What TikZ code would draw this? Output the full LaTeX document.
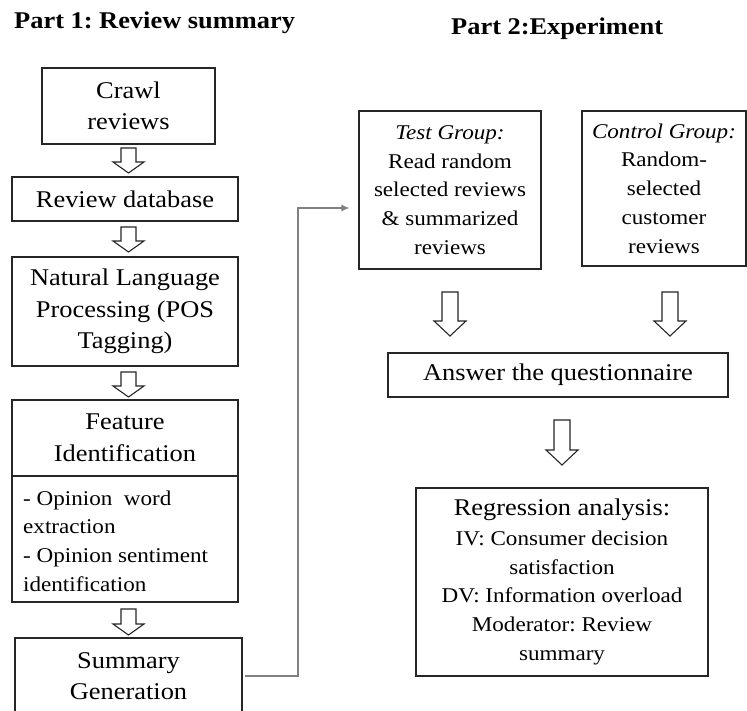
\documentclass[tikz,border=0pt]{standalone}
\usepackage{fontspec}
\setmainfont{Liberation Serif}[FakeStretch=1.1]
\usetikzlibrary{arrows.meta,calc}
\frenchspacing
\newcommand\bigf{\fontsize{24}{31.5}\selectfont}
\newcommand\smallf{\fontsize{21}{28.7}\selectfont}
\newcommand\hollowdown[6]{% cx, ytop, ybot, headh, halfshaft, halfhead
  \draw[blockarrow] (#1-#5,#2) -- (#1+#5,#2) -- (#1+#5,#3-#4) -- (#1+#6,#3-#4)
    -- (#1,#3) -- (#1-#6,#3-#4) -- (#1-#5,#3-#4) -- cycle;}
\tikzset{
  box/.style={draw=black!85, line width=1.2pt, inner sep=0pt, align=center, font=\bigf},
  smallbox/.style={box, font=\smallf},
  blockarrow/.style={draw=black!85, line width=1.1pt, fill=white, line join=miter},
  conn/.style={draw=black!50, line width=1.3pt},
  title/.style={font=\bigf\bfseries, inner sep=0pt, anchor=base west}
}
\begin{document}
\begin{tikzpicture}[x=1pt,y=-1pt]
\useasboundingbox (0,0) rectangle (747,711);
\clip (0,0) rectangle (747,711);
\fill[white] (0,0) rectangle (747,711);

% titles
\node[title] (t1) at (14,29) {Part 1: Review summary};
\node[title] (t2) at (451,35) {Part 2:Experiment};

% Part 1
\node[box, minimum width=173pt, minimum height=76pt] (crawl) at (128.5,106) {Crawl\\reviews};
\node[box, minimum width=226pt, minimum height=44pt] (rdb) at (125,199) {Review database};
\node[box, minimum width=226pt, minimum height=109pt] (nlp) at (125,311.5) {Natural Language\\Processing (POS\\Tagging)};
\node[box, minimum width=226pt, minimum height=76pt] (feat) at (125,438) {Feature\\Identification};
\node[box, minimum width=226pt, minimum height=126pt] (featd) at (125,539) {};
\node[font=\smallf, align=left, anchor=west, inner sep=0pt] (feattxt) at (23,541)
  {- Opinion\ \ word\\extraction\\- Opinion sentiment\\identification};
\node[box, minimum width=227pt, minimum height=76pt] (sumg) at (128.5,676) {Summary\\Generation};

\hollowdown{128.5}{148}{173}{11}{7.5}{15.5}
\hollowdown{128.5}{227}{252}{11}{7.5}{15.5}
\hollowdown{128.5}{372}{397}{11}{7.5}{15.5}
\hollowdown{128.5}{609}{635}{11}{7.5}{15.5}

% Part 2
\node[smallbox, minimum width=182pt, minimum height=158pt] (test) at (450,190)
  {\textit{Test Group:}\\Read random\\selected reviews\\\& summarized\\reviews};
\node[smallbox, minimum width=164pt, minimum height=155pt] (ctrl) at (664,188.5)
  {\textit{Control Group:}\\Random-\\selected\\customer\\reviews};
\node[box, minimum width=340pt, minimum height=44pt] (ans) at (558,375) {Answer the questionnaire};
\node[smallbox, minimum width=292pt, minimum height=188pt] (reg) at (562,582)
  {{\bigf Regression analysis:}\\[1pt]IV: Consumer decision\\satisfaction\\DV: Information overload\\Moderator: Review\\summary};

\hollowdown{450}{292}{336}{15}{8}{16}
\hollowdown{670}{292}{336}{15}{8}{16}
\hollowdown{562}{420}{465}{15}{8}{16}

% connector
\coordinate (bend) at (298,208);
\draw[conn, -{Latex[length=8pt,width=7pt]}, shorten >=9pt, shorten <=2pt]
  (sumg.east) -| (bend) -- ([yshift=-18pt]test.west);
\end{tikzpicture}
\end{document}
